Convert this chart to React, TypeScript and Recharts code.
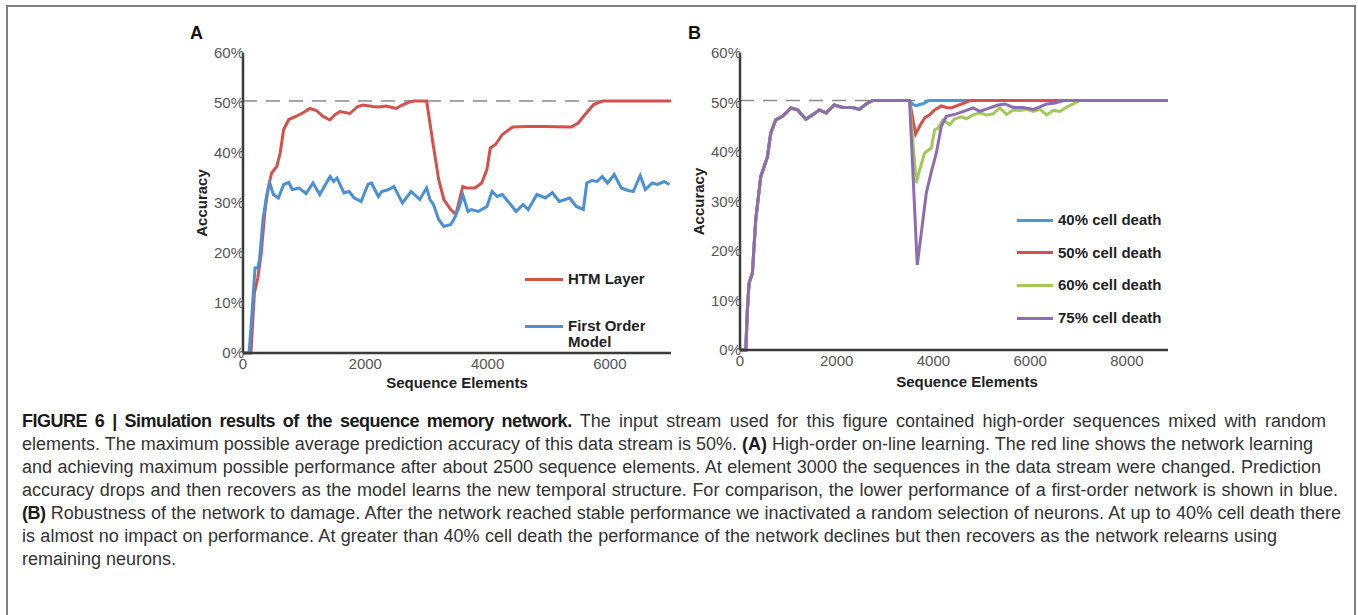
import React from 'react';
import { LineChart, Line, XAxis, YAxis, ReferenceLine, Legend } from 'recharts';

type Pt = [number, number];

// Panel A: accuracy (%) against sequence elements
const htmLayer: Pt[] = [
  [0, 0], [100, 0], [130, 0], [186, 12], [242, 15], [299, 20], [355, 28], [411, 33], [468, 36],
  [552, 37.3], [608, 40], [665, 44.7], [749, 46.7], [862, 47.3], [975, 48], [1095, 48.9], [1200, 48.5],
  [1300, 47.4], [1421, 46.6], [1500, 47.6], [1585, 48.3], [1748, 47.9], [1876, 49.3], [1961, 49.6],
  [2124, 49.3], [2214, 49.2], [2342, 49.4], [2505, 48.9], [2600, 49.6], [2723, 50.2], [2800, 50.4],
  [3003, 50.4], [3115, 41.3], [3200, 34.7], [3285, 30.7], [3397, 28.7], [3482, 27.7], [3594, 33.3],
  [3651, 33], [3792, 33], [3904, 34], [3989, 36.7], [4045, 41], [4130, 41.7], [4242, 43.7], [4411, 45.2],
  [4637, 45.3], [4918, 45.3], [5369, 45.2], [5482, 46], [5594, 47.7], [5735, 49.7], [5876, 50.4],
  [7000, 50.4],
];

const firstOrder: Pt[] = [
  [0, 0], [100, 0], [158, 10], [197, 17], [242, 17], [270, 18.7], [327, 26.7], [383, 31.3], [439, 34],
  [496, 31.7], [580, 31], [665, 33.7], [749, 34.1], [806, 32.7], [918, 33], [1031, 31.9], [1144, 34],
  [1256, 31.7], [1425, 35.3], [1482, 34.3], [1538, 35], [1651, 32], [1735, 32.3], [1820, 31],
  [1932, 30.3], [2045, 33.7], [2101, 34], [2214, 31.3], [2270, 32.3], [2383, 32.7], [2468, 33.3],
  [2608, 30], [2749, 32.3], [2890, 30.7], [3003, 33], [3059, 30.7], [3115, 29.7], [3200, 26.7],
  [3285, 25.3], [3397, 25.7], [3453, 26.8], [3538, 29.3], [3594, 31.7], [3679, 28.3], [3735, 28.7],
  [3848, 28.3], [3989, 29.3], [4073, 32.3], [4158, 31.3], [4242, 31.7], [4468, 28.3], [4580, 29.7],
  [4665, 28.7], [4806, 31.7], [4946, 31], [5059, 32.1], [5172, 30.3], [5341, 31], [5453, 29.3],
  [5566, 28.7], [5623, 34], [5707, 34.5], [5792, 34.3], [5876, 35.3], [5961, 34], [6073, 35.7],
  [6186, 33], [6299, 32.5], [6383, 32.3], [6496, 35.5], [6580, 32.7], [6693, 34], [6777, 33.7],
  [6890, 34.3], [6974, 33.7],
];

// Panel B: all runs share the training phase, then cells are killed at ~3500
const trainingB: Pt[] = [
  [0, 0], [120, 0], [152, 8], [187, 13.5], [256, 15.5], [325, 26.3], [429, 35], [498, 37], [567, 39],
  [636, 43.8], [740, 46.5], [878, 47.2], [1051, 48.9], [1190, 48.5], [1362, 46.6], [1501, 47.5],
  [1639, 48.5], [1777, 47.9], [1950, 49.5], [2123, 49], [2330, 49], [2469, 48.6], [2607, 49.7],
  [2745, 50.4], [3506, 50.4],
];

const death40: Pt[] = [
  [3575, 49.6], [3650, 49.3], [3713, 49.6], [3800, 49.8], [3900, 50.4], [8850, 50.4],
];

const death50: Pt[] = [
  [3631, 43.6], [3714, 45.2], [3818, 46.9], [3921, 47.5], [4025, 48.5], [4163, 49.3], [4267, 49],
  [4371, 48.9], [4474, 49.3], [4613, 49.8], [4750, 50.4], [8850, 50.4],
];

const death60: Pt[] = [
  [3645, 33.7], [3714, 36.4], [3818, 39.8], [3956, 40.8], [4025, 44.5], [4094, 44.8], [4198, 46.5],
  [4336, 45.5], [4440, 46.7], [4578, 47.1], [4682, 46.7], [4820, 47.5], [4959, 47.9], [5097, 47.5],
  [5235, 47.7], [5373, 48.9], [5512, 47.6], [5650, 48.5], [5789, 48.4], [5927, 48.6], [6065, 48.2],
  [6203, 48.6], [6342, 47.5], [6480, 48.4], [6618, 48.2], [6757, 49.1], [6930, 49.9], [7034, 50.4],
  [8850, 50.4],
];

const death75: Pt[] = [
  [3665, 17.2], [3748, 23.6], [3852, 31.7], [3956, 36], [4060, 39.8], [4163, 45.2], [4267, 47.2],
  [4474, 47.7], [4682, 48.4], [4820, 48.9], [4959, 48.2], [5166, 48.9], [5339, 49.5], [5477, 49.7],
  [5650, 49], [5858, 49], [6065, 48.6], [6203, 49.1], [6342, 49.7], [6515, 49.9], [6688, 50.4],
  [8850, 50.4],
];

const yTicks = [0, 10, 20, 30, 40, 50, 60];
const xTicksA = [0, 2000, 4000, 6000];
const xTicksB = [0, 2000, 4000, 6000, 8000];
const maxAccuracy = 50.4;

const seriesA = [
  { name: 'HTM Layer', color: '#d6504b', points: htmLayer },
  { name: 'First Order\nModel', color: '#4b8fd4', points: firstOrder },
];

const seriesB = [
  { name: '40% cell death', color: '#4b9ad8', points: [...trainingB, ...death40] },
  { name: '50% cell death', color: '#d6504b', points: [...trainingB, ...death50] },
  { name: '60% cell death', color: '#a2c85a', points: [...trainingB, ...death60] },
  { name: '75% cell death', color: '#8c6cb3', points: [...trainingB, ...death75] },
];

const FONT = '"Liberation Sans", Arial, Helvetica, sans-serif';

const toRows = (pts: Pt[]) => pts.map(([x, y]) => ({ x, y }));

type Item = { name: string; color: string };

const LegendBox = ({ items, gap, swatch }: { items: Item[]; gap: number; swatch: number }) => (
  <div style={{ fontFamily: FONT, fontWeight: 'bold', fontSize: 15, color: '#222', textAlign: 'left' }}>
    {items.map((it) => (
      <div key={it.name} style={{ display: 'flex', alignItems: 'flex-start', marginBottom: gap }}>
        <div style={{ width: swatch, height: 16, display: 'flex', alignItems: 'center', marginRight: 5 }}>
          <div style={{ width: swatch, height: 3, background: it.color }} />
        </div>
        <div style={{ lineHeight: '16px', whiteSpace: 'pre' }}>{it.name}</div>
      </div>
    ))}
  </div>
);

const tickStyle = { fontSize: 15, fill: '#555', fontFamily: FONT };
const titleStyle = { fontSize: 15, fontWeight: 'bold', fill: '#222', fontFamily: FONT };

const Panel = ({
  series, xMax, xTicks, marginLeft, marginRight, marginBottom, legendPos, legendGap, swatch, xLabelDx, xLabelOffset,
}: any) => (
  <LineChart
    width={540}
    height={380}
    margin={{ top: 33, right: marginRight, bottom: marginBottom, left: marginLeft }}
  >
    <XAxis
      dataKey="x"
      type="number"
      domain={[0, xMax]}
      ticks={xTicks}
      allowDataOverflow
      height={40}
      tickLine={false}
      tickSize={0}
      tickMargin={5}
      axisLine={{ stroke: '#3a3a3a', strokeWidth: 2.5 }}
      tick={tickStyle}
      label={{ value: 'Sequence Elements', position: 'insideBottom', offset: xLabelOffset, dx: xLabelDx, style: titleStyle }}
    />
    <YAxis
      type="number"
      domain={[0, 60]}
      ticks={yTicks}
      width={60}
      tickLine={false}
      tickSize={0}
      tickMargin={-1}
      tickFormatter={(v: number) => `${v}%`}
      axisLine={{ stroke: '#3a3a3a', strokeWidth: 2.5 }}
      tick={tickStyle}
      label={{ value: 'Accuracy', angle: -90, position: 'insideLeft', offset: 19, style: { ...titleStyle, textAnchor: 'middle' } }}
    />
    <ReferenceLine y={maxAccuracy} stroke="#8a8a8a" strokeWidth={1.5} strokeDasharray="14 9" />
    {series.map((s: any) => (
      <Line
        key={s.name}
        data={toRows(s.points)}
        dataKey="y"
        name={s.name}
        type="linear"
        stroke={s.color}
        strokeWidth={3}
        dot={false}
        isAnimationActive={false}
      />
    ))}
    <Legend
      layout="horizontal"
      verticalAlign="middle"
      align="center"
      wrapperStyle={{ left: legendPos[0], top: legendPos[1], width: 'auto', height: 'auto' }}
      content={() => <LegendBox items={series} gap={legendGap} swatch={swatch} />}
    />
  </LineChart>
);

// caption lines, with the x where each line ends in the figure
const captionLines: { bold: string; text: string; end: number; boldAfter?: string; tail?: string }[] = [
  { bold: 'FIGURE 6 | Simulation results of the sequence memory network.', text: ' The input stream used for this figure contained high-order sequences mixed with random', end: 1326 },
  { bold: '', text: 'elements. The maximum possible average prediction accuracy of this data stream is 50%. ', boldAfter: '(A)', tail: ' High-order on-line learning. The red line shows the network learning', end: 1311 },
  { bold: '', text: 'and achieving maximum possible performance after about 2500 sequence elements. At element 3000 the sequences in the data stream were changed. Prediction', end: 1321 },
  { bold: '', text: 'accuracy drops and then recovers as the model learns the new temporal structure. For comparison, the lower performance of a first-order network is shown in blue.', end: 1338 },
  { bold: '(B)', text: ' Robustness of the network to damage. After the network reached stable performance we inactivated a random selection of neurons. At up to 40% cell death there', end: 1341 },
  { bold: '', text: 'is almost no impact on performance. At greater than 40% cell death the performance of the network declines but then recovers as the network relearns using', end: 1277 },
  { bold: '', text: 'remaining neurons.', end: 0 },
];

export default function App() {
  const left = 22;
  return (
    <div style={{ position: 'absolute', left: 0, top: 0, width: 1358, height: 615, overflow: 'hidden', background: '#fff', fontFamily: FONT }}>
      <div style={{ position: 'absolute', left: 6, top: 5, width: 1350, height: 640, border: '2px solid #808080', boxSizing: 'border-box' }} />
      <div style={{ position: 'absolute', left: 190, top: 24, fontSize: 18, fontWeight: 'bold', lineHeight: '18px', color: '#111' }}>A</div>
      <div style={{ position: 'absolute', left: 688, top: 24, fontSize: 18, fontWeight: 'bold', lineHeight: '18px', color: '#111' }}>B</div>
      <div style={{ position: 'absolute', left: 150, top: 20 }}>
        <Panel
          series={seriesA}
          xMax={7000}
          xTicks={xTicksA}
          marginLeft={33}
          marginRight={19}
          marginBottom={7}
          legendPos={[375, 251]}
          legendGap={31}
          swatch={38}
          xLabelDx={0}
          xLabelOffset={5}
        />
      </div>
      <div style={{ position: 'absolute', left: 650, top: 20 }}>
        <Panel
          series={seriesB}
          xMax={8850}
          xTicks={xTicksB}
          marginLeft={30}
          marginRight={22}
          marginBottom={10}
          legendPos={[367, 192]}
          legendGap={16.7}
          swatch={36}
          xLabelDx={13}
          xLabelOffset={3}
        />
      </div>
      <div style={{ position: 'absolute', left, top: 409.5, fontSize: 18, lineHeight: '23px', color: '#333' }}>
        {captionLines.map((ln, i) => (
          <div
            key={i}
            style={{
              width: ln.end ? ln.end - left : 'auto',
              whiteSpace: 'nowrap',
              textAlign: ln.end ? 'justify' : 'left',
              textAlignLast: ln.end ? 'justify' : 'left',
            }}
          >
            {ln.bold && <b style={{ color: '#1a1a1a', letterSpacing: -0.5 }}>{ln.bold}</b>}
            {ln.text}
            {ln.boldAfter && <b style={{ color: '#1a1a1a' }}>{ln.boldAfter}</b>}
            {ln.tail}
          </div>
        ))}
      </div>
    </div>
  );
}
